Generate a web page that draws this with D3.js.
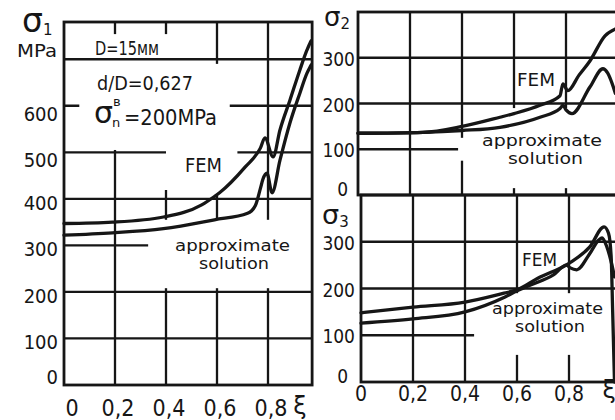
<!DOCTYPE html>
<html>
<head>
<meta charset="utf-8">
<script src="https://cdn.jsdelivr.net/npm/d3@7"></script>
<style>
  body { margin: 0; background: #fff; }
  svg { display: block; }
</style>
</head>
<body>
<script>
// --- data ---
const xiGrid = [0.2, 0.4, 0.6, 0.8];
const xiTickVals = [0, 0.2, 0.4, 0.6, 0.8];
const xiTickLabels = ["0", "0,2", "0,4", "0,6", "0,8"];

const s1Grid = [100, 200, 300, 400, 500, 600, 700];
const s1TickVals = [0, 100, 200, 300, 400, 500, 600];
const s23Grid = [100, 200, 300];
const s23TickVals = [0, 100, 200, 300];

// sigma 1
const s1FemXi  = [0, 0.19, 0.39, 0.54, 0.59, 0.61, 0.71, 0.77, 0.788, 0.82, 0.847, 0.886, 0.925, 0.953, 0.965, 0.97];
const s1FemVal = [347, 350, 361, 387, 405, 413, 468, 509, 531, 490, 548, 612, 677, 720, 735, 740];
const s1AppXi  = [0, 0.19, 0.39, 0.59, 0.72, 0.75, 0.77, 0.78, 0.796, 0.816, 0.847, 0.886, 0.925, 0.953, 0.965, 0.97];
const s1AppVal = [322, 327, 336, 355, 369, 385, 422, 442, 455, 413, 483, 563, 627, 670, 683, 688];

// sigma 2
const s2FemXi  = [0, 0.25, 0.4, 0.546, 0.6, 0.7, 0.777, 0.788, 0.807, 0.85, 0.892, 0.95, 0.99];
const s2FemVal = [135, 137, 150, 170, 178, 196, 217, 243, 228, 262, 293, 348, 363];
const s2AppXi  = [0, 0.25, 0.4, 0.546, 0.7, 0.777, 0.788, 0.80, 0.823, 0.892, 0.942, 0.96, 0.99];
const s2AppVal = [135, 137, 141, 148, 170, 189, 196, 186, 178, 236, 276, 267, 222];

// sigma 3
const s3FemXi  = [0, 0.2, 0.4, 0.55, 0.6, 0.68, 0.8, 0.88, 0.935, 0.952, 0.962, 0.968, 0.975];
const s3FemVal = [148, 160, 171, 190, 197, 222, 254, 289, 332, 318, 270, 150, 0];
const s3AppXi  = [0, 0.2, 0.4, 0.554, 0.6, 0.65, 0.74, 0.79, 0.805, 0.83, 0.877, 0.915, 0.927, 0.945, 0.96, 0.975];
const s3AppVal = [126, 135, 150, 182, 195, 207, 229, 250, 244, 240, 272, 304, 308, 290, 262, 225];

// --- canvas ---
const width = 615;
const height = 420;
const ink = "#161616";
const numFont = "'DejaVu Sans Condensed', 'DejaVu Sans', sans-serif";
const wordFont = "'DejaVu Sans', sans-serif";

const svg = d3.select("body")
  .append("svg")
  .attr("width", width)
  .attr("height", height)
  .style("background", "#fff");

// panels: scales + where the hand-drawn grid was left blank around the lettering
const panels = [
  {
    x: d3.scaleLinear().domain([0, 1]).range([64, 319]),
    y: d3.scaleLinear().domain([0, 780]).range([385, 22]),
    xMax: 0.973, yMax: 780, grid: s1Grid,
    vMasks: [[0.10, 0.30, 505, 754], [0.32, 0.49, 419, 754], [0.51, 0.69, 408, 690], [0.30, 0.93, 208, 355]],
    hMasks: [[0.06, 0.65, 575, 625], [0.40, 0.68, 475, 525], [0.33, 0.98, 275, 325]],
    curves: [[s1FemXi, s1FemVal], [s1AppXi, s1AppVal]]
  },
  {
    x: d3.scaleLinear().domain([0, 1]).range([358, 618]),
    y: d3.scaleLinear().domain([0, 400]).range([195, 12]),
    xMax: 1, yMax: 400, grid: s23Grid,
    vMasks: [[0.53, 1.0, 15, 190]],
    hMasks: [[0.385, 1.0, 75, 125]],
    curves: [[s2FemXi, s2FemVal], [s2AppXi, s2AppVal]]
  },
  {
    x: d3.scaleLinear().domain([0, 1]).range([361, 621]),
    y: d3.scaleLinear().domain([0, 400]).range([382, 195]),
    xMax: 1, yMax: 400, grid: s23Grid,
    vMasks: [[0.515, 1.0, 58, 190]],
    hMasks: [[0.435, 1.0, 75, 125]],
    curves: [[s3FemXi, s3FemVal], [s3AppXi, s3AppVal]]
  }
];

function maskRect(g, p, list) {
  g.selectAll(null)
    .data(list)
    .join("rect")
    .attr("x", m => p.x(m[0]))
    .attr("width", m => p.x(m[1]) - p.x(m[0]))
    .attr("y", m => p.y(m[3]))
    .attr("height", m => p.y(m[2]) - p.y(m[3]))
    .attr("fill", "#fff");
}

panels.forEach(p => {
  const g = svg.append("g");
  const xL = p.x(0), xR = p.x(p.xMax), yB = p.y(0), yT = p.y(p.yMax);

  // vertical grid
  g.selectAll(null)
    .data(xiGrid)
    .join("line")
    .attr("x1", d => p.x(d)).attr("x2", d => p.x(d))
    .attr("y1", yB).attr("y2", yT)
    .attr("stroke", ink).attr("stroke-width", 2.3);
  maskRect(g, p, p.vMasks);

  // horizontal grid
  g.selectAll(null)
    .data(p.grid)
    .join("line")
    .attr("x1", xL).attr("x2", xR)
    .attr("y1", d => p.y(d)).attr("y2", d => p.y(d))
    .attr("stroke", ink).attr("stroke-width", 2.3);
  maskRect(g, p, p.hMasks);

  // frame
  g.append("rect")
    .attr("x", xL).attr("y", yT)
    .attr("width", xR - xL).attr("height", yB - yT)
    .attr("fill", "none").attr("stroke", ink).attr("stroke-width", 2.8);

  // curves
  const line = d3.line()
    .x(d => p.x(d[0]))
    .y(d => p.y(d[1]))
    .curve(d3.curveMonotoneX);
  p.curves.forEach(([xs, vs]) => {
    g.append("path")
      .datum(xs.map((v, i) => [v, vs[i]]))
      .attr("d", line)
      .attr("fill", "none")
      .attr("stroke", ink)
      .attr("stroke-width", 3.3)
      .attr("stroke-linejoin", "round")
      .attr("stroke-linecap", "round");
  });
});

// --- tick labels ---
const [p1, p2, p3] = panels;

svg.append("g")
  .selectAll("text")
  .data(s1TickVals)
  .join("text")
  .attr("x", 58)
  .attr("y", d => p1.y(d) + (d === 0 ? -1 : d >= 500 ? 15 : 11))
  .attr("text-anchor", "end")
  .attr("font-family", numFont)
  .attr("font-size", 20)
  .attr("fill", ink)
  .text(d => d);

[p2, p3].forEach(p => {
  svg.append("g")
    .selectAll("text")
    .data(s23TickVals)
    .join("text")
    .attr("x", d => d === 0 ? 348 : 355)
    .attr("y", d => p.y(d) + (d === 0 ? 1 : 8))
    .attr("text-anchor", "end")
    .attr("font-family", numFont)
    .attr("font-size", 19)
    .attr("fill", ink)
    .text(d => d);
});

// x labels
svg.append("g")
  .selectAll("text")
  .data(xiTickVals)
  .join("text")
  .attr("x", (d, i) => p1.x(d) + (i === 0 ? 8 : 3))
  .attr("y", 416)
  .attr("text-anchor", "middle")
  .attr("font-family", numFont)
  .attr("font-size", 23)
  .attr("fill", ink)
  .text((d, i) => xiTickLabels[i]);

svg.append("g")
  .selectAll("text")
  .data(xiTickVals)
  .join("text")
  .attr("x", d => p3.x(d))
  .attr("y", 401)
  .attr("text-anchor", "middle")
  .attr("font-family", numFont)
  .attr("font-size", 21)
  .attr("fill", ink)
  .text((d, i) => xiTickLabels[i]);

// xi symbols
[[p1.x(0.925), 414], [p3.x(0.955), 398]].forEach(([x, y]) => {
  svg.append("text")
    .attr("x", x).attr("y", y)
    .attr("text-anchor", "middle")
    .attr("font-family", wordFont)
    .attr("font-size", 24)
    .attr("fill", ink)
    .text("ξ");
});

// --- axis titles: sigma with subscripts ---
function sigma(x, y, sub, size) {
  const t = svg.append("text")
    .attr("x", x).attr("y", y)
    .attr("font-family", wordFont)
    .attr("font-size", size)
    .attr("fill", ink);
  t.append("tspan").text("σ");
  t.append("tspan").attr("font-size", 15).attr("dy", 3).text(sub);
}
sigma(22, 32, "1", 33);
sigma(324, 26, "2", 26);
sigma(322, 224, "3", 27);

svg.append("text")
  .attr("x", 17).attr("y", 57)
  .attr("font-family", wordFont)
  .attr("font-size", 18)
  .attr("textLength", 40)
  .attr("lengthAdjust", "spacingAndGlyphs")
  .attr("fill", ink)
  .text("MPa");

// --- parameters block ---
const params = [
  { t: "D=15мм", x: 95, y: 55, s: 20, w: 64 },
  { t: "d/D=0,627", x: 97, y: 90, s: 19, w: 96 },
  { t: "=200MPa", x: 124, y: 125, s: 21, w: 93 }
];
svg.append("g")
  .selectAll("text")
  .data(params)
  .join("text")
  .attr("x", d => d.x).attr("y", d => d.y)
  .attr("font-family", numFont)
  .attr("font-size", d => d.s)
  .attr("textLength", d => d.w)
  .attr("lengthAdjust", "spacingAndGlyphs")
  .attr("fill", ink)
  .text(d => d.t);

const sn = svg.append("text")
  .attr("x", 94).attr("y", 123)
  .attr("font-family", wordFont).attr("font-size", 30)
  .attr("fill", ink);
sn.append("tspan").text("σ");
sn.append("tspan").attr("font-size", 13).attr("dx", -1).attr("dy", 4).text("n");
svg.append("text")
  .attr("x", 113).attr("y", 106)
  .attr("font-family", wordFont).attr("font-size", 13)
  .attr("fill", ink)
  .text("в");

// --- curve labels ---
const femLabels = [
  { x: 185, y: 172, w: 37, s: 19 },
  { x: 517, y: 86, w: 38, s: 18 },
  { x: 522, y: 266, w: 35, s: 18 }
];
svg.append("g")
  .selectAll("text")
  .data(femLabels)
  .join("text")
  .attr("x", d => d.x).attr("y", d => d.y)
  .attr("font-family", wordFont)
  .attr("font-size", d => d.s)
  .attr("textLength", d => d.w)
  .attr("lengthAdjust", "spacingAndGlyphs")
  .attr("fill", ink)
  .text("FEM");

// "approximate / solution" as two lines of one label
const approxLabels = [
  { x: 175, y: 251, w1: 115, x2: 199, w2: 70 },
  { x: 482, y: 146, w1: 120, x2: 508, w2: 75 },
  { x: 492, y: 314, w1: 111, x2: 515, w2: 70 }
];
approxLabels.forEach(d => {
  const t = svg.append("text")
    .attr("x", d.x).attr("y", d.y)
    .attr("font-family", wordFont)
    .attr("font-size", 15)
    .attr("fill", ink);
  t.append("tspan")
    .attr("x", d.x)
    .attr("textLength", d.w1)
    .attr("lengthAdjust", "spacingAndGlyphs")
    .text("approximate");
  t.append("tspan")
    .attr("x", d.x2).attr("dy", 17.6)
    .attr("textLength", d.w2)
    .attr("lengthAdjust", "spacingAndGlyphs")
    .text("solution");
});
</script>
</body>
</html>
